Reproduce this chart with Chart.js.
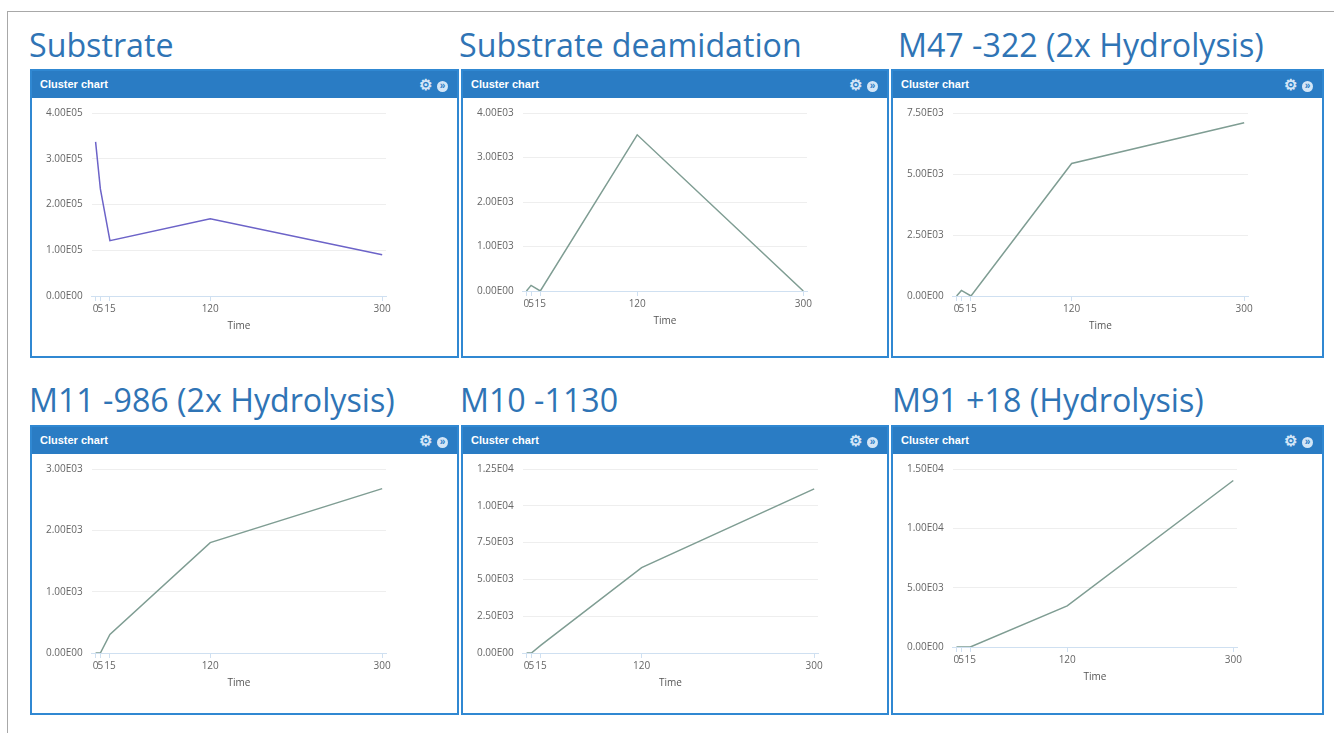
<!DOCTYPE html>
<html>
<head>
    <title>Cluster charts</title>
    <script src="https://cdn.jsdelivr.net/npm/chart.js"></script>
    <style>
        body {
            margin: 0;
            width: 1334px;
            height: 733px;
            background: #fff;
            position: relative;
            overflow: hidden;
            font-family: "Open Sans", sans-serif;
        }
        #frame {
            position: absolute;
            left: 7px;
            top: 11px;
            width: 1340px;
            height: 740px;
            border-left: 1px solid #a8a8a8;
            border-top: 1px solid #a8a8a8;
        }
        .title {
            position: absolute;
            color: #2f74b5;
            font-size: 32.2px;
            line-height: 40px;
            white-space: nowrap;
        }
        .panel {
            position: absolute;
            border: 2px solid #3088d2;
            box-sizing: border-box;
            background: #fff;
        }
        .head {
            height: 27px;
            background: #2a7cc4;
            color: #fff;
            font: bold 11px "Liberation Sans", Arial, sans-serif;
            line-height: 27px;
            padding-left: 8px;
            position: relative;
        }
        .icons {
            position: absolute;
            right: 9px;
            top: 0;
            color: #d4e6f7;
            font-size: 15px;
        }
        .icons .go {
            display: inline-block;
            width: 11px;
            height: 11px;
            border-radius: 50%;
            background: #d4e6f7;
            color: #2a7cc4;
            font: bold 10px "Liberation Sans", Arial, sans-serif;
            line-height: 10px;
            text-align: center;
            margin-left: 5px;
            vertical-align: 1px;
        }
        .body {
            position: absolute;
            left: 0;
            right: 0;
            top: 27px;
            bottom: 0;
        }
    </style>
</head>
<body>
    <div id="frame"></div>

    <script>
        // time points (x) shared by all six charts
        const times = [0, 5, 15, 120, 300];

        const titles = [
            'Substrate',
            'Substrate deamidation',
            'M47 -322 (2x Hydrolysis)',
            'M11 -986 (2x Hydrolysis)',
            'M10 -1130',
            'M91 +18 (Hydrolysis)'
        ];

        // intensities
        const substrate = [337000, 234000, 121000, 169000, 90000];
        const deamidation = [0, 126, 0, 3510, 0];
        const m47 = [0, 230, 0, 5430, 7100];
        const m11 = [0, 0, 302, 1800, 2680];
        const m10 = [0, 0, 540, 5800, 11150];
        const m91 = [0, 0, 0, 3460, 14030];

        const yMax = [400000, 4000, 7500, 3000, 12500, 15000];
        const yStep = [100000, 1000, 2500, 1000, 2500, 5000];

        const series = [substrate, deamidation, m47, m11, m10, m91];
        const lineColors = ['#6c63c8', '#7f9d93', '#7f9d93', '#7f9d93', '#7f9d93', '#7f9d93'];

        // page layout of the six boxes
        const boxes = [
            { x: 30, y: 69, w: 429, h: 289, tx: 29, ty: 25, right: 71, bottom: 24 },
            { x: 461, y: 69, w: 428, h: 289, tx: 459, ty: 25, right: 80, bottom: 29 },
            { x: 891, y: 69, w: 433, h: 289, tx: 898, ty: 25, right: 74, bottom: 24 },
            { x: 30, y: 425, w: 429, h: 290, tx: 29, ty: 380, right: 71, bottom: 24 },
            { x: 461, y: 425, w: 428, h: 290, tx: 460, ty: 380, right: 69, bottom: 24 },
            { x: 891, y: 425, w: 433, h: 290, tx: 892, ty: 380, right: 85, bottom: 30 }
        ];

        function sciLabel(v) {
            if (v === 0) return '0.00E00';
            const exp = Math.floor(Math.log10(v));
            const mant = v / Math.pow(10, exp);
            return mant.toFixed(2) + 'E' + String(exp).padStart(2, '0');
        }

        function makePanel(i) {
            const b = boxes[i];

            const t = document.createElement('div');
            t.className = 'title';
            t.style.left = b.tx + 'px';
            t.style.top = b.ty + 'px';
            t.textContent = titles[i];
            document.body.appendChild(t);

            const p = document.createElement('div');
            p.className = 'panel';
            p.style.left = b.x + 'px';
            p.style.top = b.y + 'px';
            p.style.width = b.w + 'px';
            p.style.height = b.h + 'px';
            p.innerHTML = '<div class="head">Cluster chart<span class="icons">\u2699<span class="go">\u00bb</span></span></div>' +
                '<div class="body"><canvas></canvas></div>';
            document.body.appendChild(p);

            const ctx = p.querySelector('canvas').getContext('2d');
            new Chart(ctx, {
                type: 'line',
                data: {
                    datasets: [{
                        data: times.map((t, k) => ({ x: t, y: series[i][k] })),
                        borderColor: lineColors[i],
                        borderWidth: 1.5,
                        pointRadius: 0,
                        tension: 0,
                        fill: false
                    }]
                },
                options: {
                    responsive: true,
                    maintainAspectRatio: false,
                    animation: false,
                    plugins: {
                        legend: { display: false },
                        tooltip: { enabled: false }
                    },
                    layout: {
                        padding: { left: 5, right: b.right, top: 1, bottom: b.bottom }
                    },
                    scales: {
                        x: {
                            type: 'linear',
                            min: -4,
                            max: 304,
                            afterBuildTicks: axis => {
                                axis.ticks = times.map(v => ({ value: v }));
                            },
                            ticks: {
                                autoSkip: false,
                                maxRotation: 0,
                                padding: 2,
                                color: '#666',
                                font: { family: 'Open Sans', size: 10 }
                            },
                            grid: {
                                drawOnChartArea: false,
                                tickLength: 5,
                                color: '#cfe0f1'
                            },
                            border: { color: '#cfe0f1' },
                            title: {
                                display: true,
                                text: 'Time',
                                color: '#555',
                                font: { family: 'Open Sans', size: 10 },
                                padding: { top: 3, bottom: 0 }
                            }
                        },
                        y: {
                            min: 0,
                            max: yMax[i],
                            ticks: {
                                stepSize: yStep[i],
                                padding: 9,
                                color: '#666',
                                font: { family: 'Open Sans', size: 10 },
                                callback: v => sciLabel(v)
                            },
                            grid: {
                                drawTicks: false,
                                color: '#eeeeee'
                            },
                            border: { display: false }
                        }
                    }
                }
            });
        }

        for (let i = 0; i < boxes.length; i++) {
            makePanel(i);
        }
    </script>
</body>
</html>
